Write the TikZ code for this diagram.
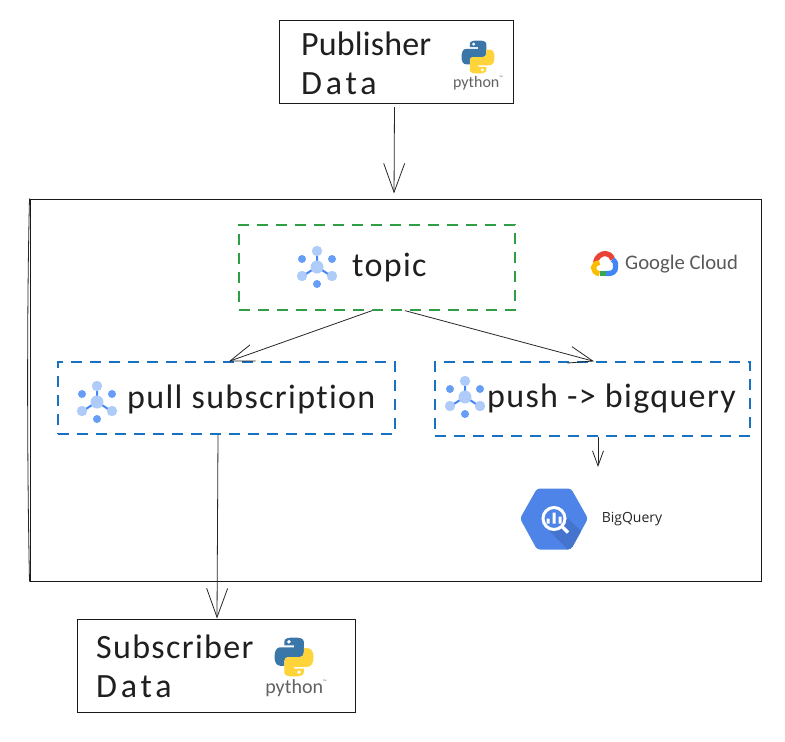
\documentclass[tikz,border=0pt]{standalone}
\usepackage{fontspec}
\usepackage{tikz}
\usetikzlibrary{arrows.meta,positioning}
\newfontfamily\handfont[LetterSpace=4,Ligatures=NoCommon]{Carlito}
\newfontfamily\logofont{Carlito}
\newfontfamily\bqfont{Open Sans}
\definecolor{hublight}{HTML}{AECBFA}
\definecolor{hubdark}{HTML}{669DF6}
\definecolor{hubline}{HTML}{4285F4}
\definecolor{pyblue}{HTML}{3A76A8}
\definecolor{pyyellow}{HTML}{FFD43B}
\definecolor{bqblue}{HTML}{4E84E7}
\definecolor{bqdark}{HTML}{4474CE}
\definecolor{gcred}{HTML}{EA4335}
\definecolor{gcyellow}{HTML}{FBBC04}
\definecolor{gcgreen}{HTML}{34A853}
\tikzset{
    databox/.style={rectangle, draw=black!90, line width=1pt},
    cloudbox/.style={rectangle, draw=black!90, line width=1pt},
    topicbox/.style={rectangle, draw={rgb,255:red,47;green,158;blue,68}, line width=1.3pt, dash pattern=on 11pt off 8pt},
    subbox/.style={rectangle, draw={rgb,255:red,25;green,113;blue,194}, line width=1.3pt, dash pattern=on 11pt off 8pt},
    hand/.style={font={\handfont\fontsize{34pt}{39pt}\selectfont}, text=black!88, inner sep=0pt, align=left},
    pylabel/.style={text=black!62, inner sep=0pt},
    conn/.style={draw=black!85, line width=.8pt},
    bigarrow/.style={conn, -{Straight Barb[length=29pt,width=21pt,line width=.8pt]}},
    midarrow/.style={conn, -{Straight Barb[length=24pt,width=17pt,line width=.8pt]}},
    smallarrow/.style={conn, -{Straight Barb[length=15pt,width=11pt,line width=.8pt]}},
    hubicon/.pic={
        \draw[hubline, line width=2pt] (0,-6) -- (0,-11) (-5,3) -- (-11,7) (5,3) -- (11,7);
        \fill[hublight] (0,0) circle (6.5) (0,-16) circle (5.2) (-15,9) circle (5.2) (15,9) circle (5.2);
        \fill[hubdark] (-15,-8) circle (4) (15,-8) circle (4) (0,17) circle (4);
    },
    pythonlogo/.pic={
        \fill[pyblue] (-5,-7) -- (-5,-8) .. controls (-5,-9.6) and (-2.5,-10) .. (0,-10)
            .. controls (2.5,-10) and (5,-9.6) .. (5,-8) -- (5,-2) .. controls (5,-.8) and (4,0) .. (3,0)
            -- (-3,0) .. controls (-4.5,0) and (-5,1) .. (-5,2.5) -- (-5,4.5) -- (-7,4.5)
            .. controls (-9,4.5) and (-10,2.5) .. (-10,0) .. controls (-10,-3) and (-9,-5) .. (-7,-5)
            -- (0,-5) -- (0,-6) -- (-5,-6) -- cycle;
        \fill[pyyellow] (5,7) -- (5,8) .. controls (5,9.6) and (2.5,10) .. (0,10)
            .. controls (-2.5,10) and (-5,9.6) .. (-5,8) -- (-5,2) .. controls (-5,.8) and (-4,0) .. (-3,0)
            -- (3,0) .. controls (4.5,0) and (5,-1) .. (5,-2.5) -- (5,-4.5) -- (7,-4.5)
            .. controls (9,-4.5) and (10,-2.5) .. (10,0) .. controls (10,3) and (9,5) .. (7,5)
            -- (0,5) -- (0,6) -- (5,6) -- cycle;
        \fill[white] (-2.6,-7.8) circle (1) (2.6,7.8) circle (1);
    },
    gcloudlogo/.pic={
        \draw[line width=5.2pt, gcred] (-9,-1) .. controls (-8,-7) and (-3,-10) .. (1,-10) .. controls (4,-10) and (7,-8) .. (8,-4);
        \draw[line width=5.2pt, hubline] (8,-4) .. controls (11,-2) and (12,1) .. (11,4) .. controls (11,8) and (8,10) .. (4,10) -- (1,10);
        \draw[line width=5.2pt, gcgreen] (1,10) -- (-5,10);
        \draw[line width=5.2pt, gcyellow] (-5,10) .. controls (-9,10) and (-11,7) .. (-11,4) .. controls (-11,1) and (-8,-1) .. (-5,-1);
    },
    bqlogo/.pic={
        \begin{scope}
        \clip[rounded corners=3pt] (-34,0) -- (-17,-30) -- (17,-30) -- (34,0) -- (17,31) -- (-17,31) -- cycle;
        \fill[bqblue] (-34,-31) rectangle (34,31);
        \fill[bqdark] (14,0) -- (33,18) -- (14,31) -- (-4,13) -- cycle;
        \end{scope}
        \fill[bqblue] (0,0) circle (11);
        \draw[white, line width=3pt] (0,0) circle (11);
        \draw[white, line width=3.4pt] (8,8) -- (14,14);
        \fill[white] (-7.5,0) rectangle (-4.5,5) (-1.5,-6) rectangle (1.5,5) (4.5,-2) rectangle (7.5,5);
    },
}
\begin{document}
\begin{tikzpicture}[x=1pt, y=-1pt]
\useasboundingbox (0,0) rectangle (785,742);
% boxes
\node(Cloud) at (395.5,390)[cloudbox, minimum width=731pt, minimum height=382pt]{};
\node(Pub) at (396,62)[databox, minimum width=234pt, minimum height=83pt]{};
\node(Sub) at (216,665.5)[databox, minimum width=278pt, minimum height=93pt]{};
\node(Top) at (377,267.5)[topicbox, minimum width=276pt, minimum height=85pt]{};
\node(Pull) at (226.5,398)[subbox, minimum width=337pt, minimum height=72pt]{};
\node(Push) at (592.5,399)[subbox, minimum width=315pt, minimum height=74pt]{};
\node(BqText) at (632,519)[inner sep=0pt, font={\bqfont\fontsize{14pt}{16pt}\selectfont}, text=black!85]{BigQuery};
% texts
\node(PubText) at (301,63)[hand, anchor=west]{{\addfontfeature{LetterSpace=.5}Publisher}\\{\addfontfeature{LetterSpace=11}Data}};
\node(SubText) at (96,666)[hand, anchor=west]{Subscriber\\{\addfontfeature{LetterSpace=11}Data}};
\node(TopText) at (352,268)[hand, anchor=west]{topic};
\node(PullText) at (127,399)[hand, anchor=west]{pull subscription};
\node(PushText) at (487,399)[hand, anchor=west]{push -> bigquery};
\node(GcText) at (625,264)[anchor=west, inner sep=0pt, text=black!65, font={\logofont\fontsize{20.7pt}{25pt}\selectfont}]{Google Cloud};
\node(PubPy) at (478,83)[pylabel, font={\handfont\addfontfeature{LetterSpace=0}\fontsize{16pt}{20pt}\selectfont}]{python\raisebox{.5em}{\tiny ™}};
\node(SubPy) at (296,688)[pylabel, font={\handfont\addfontfeature{LetterSpace=0}\fontsize{20pt}{24pt}\selectfont}]{python\raisebox{.5em}{\tiny ™}};
% logos
\pic at (317,267) {hubicon};
\pic at (97,402) {hubicon};
\pic at (465,397) {hubicon};
\pic[scale=1.65] at (478,57) {pythonlogo};
\pic[scale=1.95] at (294,657) {pythonlogo};
\pic at (604.5,263.5) {gcloudlogo};
\pic at (554,518.5) {bqlogo};
% the second stroke of the frame
\draw[conn] (Cloud.north west) .. controls (27,300) and (27,460) .. (Cloud.south west);
% arrows
\coordinate(BqTop) at (598,467);
\draw[bigarrow, shorten <=3pt, shorten >=5pt] ([xshift=-1.5pt]Pub.south) -- ([xshift=-1.5pt]Cloud.north);
\draw[midarrow] ([xshift=-5pt]Top.south) -- ([xshift=2.5pt]Pull.north);
\draw[midarrow] ([xshift=28pt]Top.south) -- ([xshift=1.5pt]Push.north);
\draw[bigarrow] ([xshift=-8.5pt]Pull.south) -- ([xshift=1pt]Sub.north);
\draw[smallarrow] (Push.south -| BqTop) -- (BqTop);
\end{tikzpicture}
\end{document}
